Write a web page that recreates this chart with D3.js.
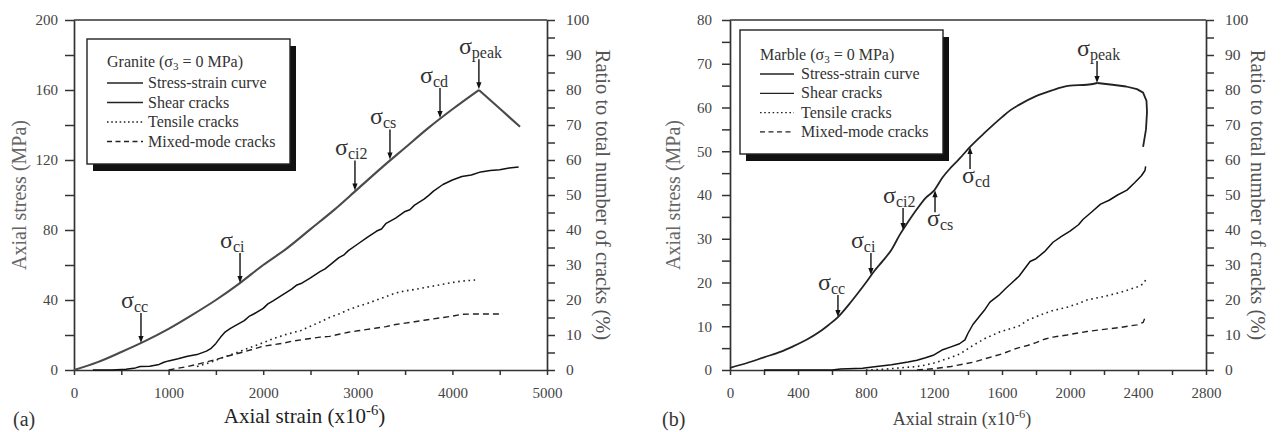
<!DOCTYPE html>
<html>
<head>
<meta charset="utf-8">
<script src="https://cdn.jsdelivr.net/npm/d3@7"></script>
<style>
  html, body { margin: 0; padding: 0; background: #fff; }
  svg { display: block; }
  svg text { font-family: "Liberation Serif", "Times New Roman", Tinos, "DejaVu Serif", serif; }
</style>
</head>
<body>
<div id="chart"></div>
<script>
// ---- data ----
// (a) granite: [axial strain x1e-6, value]
const graniteStress = [[0,0],[250,4.5],[500,10.3],[750,16.5],[1000,23.5],[1250,31.5],[1500,40],[1750,49.5],
  [2000,60],[2250,69.5],[2500,80.5],[2750,91.5],[3000,103.5],[3250,115.5],[3500,127],[3750,138.5],
  [4000,149],[4280,160],[4500,149.4],[4715,139]];
const graniteShear = [[200,0],[400,0],[550,0.2],[650,0.6],[700,1.0],[800,1.1],[900,1.6],[950,2.2],[1000,2.6],
  [1100,3.2],[1200,3.9],[1300,4.4],[1400,5.4],[1450,6.2],[1500,7.6],[1550,9.4],[1600,10.9],[1650,11.8],
  [1700,12.6],[1800,14.1],[1850,15.3],[1900,16.0],[2000,17.6],[2050,18.9],[2100,19.7],[2200,21.4],
  [2300,23.1],[2350,24.2],[2400,24.7],[2500,26.3],[2600,28.1],[2650,28.8],[2700,29.9],[2800,32.1],
  [2850,32.8],[2900,34.1],[3000,36.0],[3100,37.9],[3200,39.7],[3250,40.3],[3300,41.9],[3400,43.4],
  [3500,45.3],[3550,45.8],[3600,47.1],[3700,48.8],[3750,49.9],[3800,51.1],[3900,53.0],[4000,54.3],
  [4100,55.3],[4200,55.7],[4300,56.6],[4400,57.0],[4500,57.2],[4600,57.7],[4700,58.0]];
const graniteTensile = [[1300,1.0],[1400,1.8],[1500,2.8],[1600,3.8],[1700,4.8],[1800,5.8],[1900,6.8],[2000,7.8],
  [2100,8.9],[2200,9.8],[2300,10.6],[2400,11.3],[2500,12.5],[2600,13.7],[2700,15.0],[2800,16.0],
  [2900,17.2],[3000,18.2],[3100,19.0],[3200,20.0],[3300,21.0],[3400,22.0],[3500,22.6],[3600,23.0],
  [3700,23.5],[3800,24.0],[3900,24.5],[4000,25.0],[4100,25.4],[4240,25.7]];
const graniteMixed = [[1000,0],[1100,0.5],[1200,1.0],[1300,1.6],[1400,2.3],[1500,3.0],[1600,3.8],[1700,4.5],
  [1800,5.2],[1900,6.0],[2000,6.8],[2100,7.2],[2200,7.6],[2300,8.2],[2400,8.6],[2500,9.0],[2600,9.4],
  [2700,9.6],[2800,10.2],[2900,10.8],[3000,11.2],[3100,11.6],[3200,12.0],[3300,12.4],[3400,13.0],
  [3500,13.4],[3600,13.8],[3700,14.2],[3800,14.6],[3900,15.0],[4000,15.4],[4100,15.9],[4200,16.0],[4535,16.0]];
const graniteMarks = [
  { sub: "cc", strain: 708, stress: 15.4, up: false },
  { sub: "ci", strain: 1755, stress: 49.7, up: false },
  { sub: "ci2", strain: 2970, stress: 102.6, up: false },
  { sub: "cs", strain: 3340, stress: 120.3, up: false },
  { sub: "cd", strain: 3869, stress: 144, up: false },
  { sub: "peak", strain: 4280, stress: 160.5, up: false }
];

// (b) marble
const marbleStress = [[0,0.5],[100,1.6],[200,2.9],[300,4.2],[365,5.3],[450,6.9],[518,8.5],[580,10.3],[635,12.1],
  [700,15.0],[753,17.6],[800,20.0],[850,22.7],[900,25.0],[950,27.5],[1000,31.0],[1050,34.0],[1100,36.8],
  [1150,39.3],[1200,41.0],[1250,44.0],[1300,46.3],[1350,48.3],[1412,51.0],[1500,54.3],[1600,57.8],
  [1650,59.4],[1700,60.6],[1800,62.6],[1900,64.0],[1950,64.6],[2000,65.0],[2100,65.2],[2160,65.6],
  [2250,65.2],[2330,64.8],[2394,64.2],[2430,63.4],[2450,61.5],[2453,59.0],[2447,55.0],[2430,51.0]];
const marbleShear = [[200,0],[400,0],[600,0],[650,0.3],[780,0.5],[850,0.9],[950,1.5],[1047,2.3],[1100,2.8],
  [1150,3.5],[1200,4.3],[1247,5.7],[1300,6.6],[1350,7.5],[1382,8.6],[1400,10.5],[1429,13.0],[1470,15.5],
  [1500,17.3],[1529,19.4],[1580,21.3],[1620,23.2],[1660,25.0],[1700,26.8],[1765,31.0],[1800,31.8],
  [1850,33.8],[1900,36.5],[1950,38.2],[2000,39.7],[2050,41.5],[2076,43.0],[2129,45.2],[2180,47.4],
  [2230,48.5],[2280,50.0],[2335,51.4],[2380,53.5],[2420,55.5],[2441,57.0],[2445,58.2]];
const marbleTensile = [[800,0],[900,0.2],[1000,0.6],[1100,1.0],[1147,1.4],[1200,2.0],[1250,2.8],[1300,3.6],
  [1353,4.6],[1429,7.0],[1500,9.0],[1588,10.9],[1650,11.8],[1700,12.6],[1750,14.2],[1800,15.2],
  [1850,16.2],[1900,17.0],[1982,17.9],[2050,19.0],[2100,20.0],[2200,21.0],[2300,22.2],[2394,23.7],
  [2430,24.6],[2453,26.3]];
const marbleMixed = [[1100,0],[1200,0.4],[1300,1.0],[1429,2.2],[1500,3.2],[1600,4.6],[1686,6.2],[1750,7.0],
  [1800,7.8],[1850,8.8],[1900,9.4],[1982,10.0],[2050,10.6],[2100,11.0],[2200,11.6],[2300,12.2],
  [2394,12.9],[2430,13.6],[2441,14.9]];
const marbleMarks = [
  { sub: "cc", strain: 635, stress: 12.1, up: false },
  { sub: "ci", strain: 829, stress: 21.7, up: false },
  { sub: "ci2", strain: 1018, stress: 32, up: false },
  { sub: "cs", strain: 1206, stress: 41.1, up: true },
  { sub: "cd", strain: 1412, stress: 51, up: true },
  { sub: "peak", strain: 2159, stress: 65.6, up: false }
];

const legendLabels = ["Stress-strain curve", "Shear cracks", "Tensile cracks", "Mixed-mode cracks"];
const ratioTicks = d3.range(0, 101, 10);
const ratioMinor = d3.range(5, 100, 10);

// ---- layout ----
const W = 1282, H = 432;
const FONT = "'Liberation Serif', 'Times New Roman', Tinos, 'DejaVu Serif', serif";
const svg = d3.select("#chart").append("svg").attr("width", W).attr("height", H)
  .attr("font-family", FONT);

const panels = [
  {
    letter: "(a)", letterX: 13, rock: "Granite",
    left: 74, right: 547, top: 20, bottom: 370,
    xMax: 5000, xTicks: d3.range(0, 5001, 1000), xMinor: d3.range(500, 5000, 1000),
    yMax: 200, yTicks: d3.range(0, 201, 40), yMinor: d3.range(20, 200, 40),
    yPad: 7, yTick: 9,
    stress: graniteStress, shear: graniteShear, tensile: graniteTensile, mixed: graniteMixed, marks: graniteMarks,
    stressColor: "#4a4a4a", stressWidth: 2.1, arrowLen: 30,
    yTitleX: 19, yrTitleX: 603, xTitleSize: 21, xTitleColor: "#222", xTitleBase: 423,
    legend: { x: 87, y: 39, w: 203, h: 125, titleY: 67, row0: 88, dy: 19.5, lx0: 107, lx1: 143, tx: 148 }
  },
  {
    letter: "(b)", letterX: 662, rock: "Marble",
    left: 730, right: 1206, top: 20, bottom: 370,
    xMax: 2800, xTicks: d3.range(0, 2801, 400), xMinor: d3.range(200, 2800, 400),
    yMax: 80, yTicks: d3.range(0, 81, 10), yMinor: d3.range(5, 80, 10),
    yPad: 10, yTick: 8,
    stress: marbleStress, shear: marbleShear, tensile: marbleTensile, mixed: marbleMixed, marks: marbleMarks,
    stressColor: "#222", stressWidth: 1.8, arrowLen: 22,
    yTitleX: 673, yrTitleX: 1258, xTitleSize: 18, xTitleColor: "#444", xTitleBase: 425,
    legend: { x: 740, y: 30, w: 203, h: 124, titleY: 60, row0: 79, dy: 19.3, lx0: 760, lx1: 794, tx: 801 }
  }
];

const axisColor = "#333";
const tickColor = "#444";
const fmt = d3.format("d");

function styleAxis(g, size) {
  g.attr("font-family", FONT);
  g.selectAll("path.domain").attr("stroke", axisColor).attr("stroke-width", 1.7);
  g.selectAll(".tick line").attr("stroke", axisColor).attr("stroke-width", 1.5);
  g.selectAll(".tick text").attr("fill", tickColor).attr("font-size", size);
}

function drawPanel(p) {
  const g = svg.append("g");
  const x = d3.scaleLinear().domain([0, p.xMax]).range([p.left, p.right]);
  const y = d3.scaleLinear().domain([0, p.yMax]).range([p.bottom, p.top]);
  const yr = d3.scaleLinear().domain([0, 100]).range([p.bottom, p.top]);

  // top frame
  g.append("line").attr("x1", p.left).attr("x2", p.right).attr("y1", p.top).attr("y2", p.top)
    .attr("stroke", axisColor).attr("stroke-width", 1.7);

  // minor ticks
  g.append("g").attr("transform", `translate(${p.left},0)`)
    .call(d3.axisLeft(y).tickValues(p.yMinor).tickFormat("").tickSize(p.yTick).tickSizeOuter(0))
    .call(s => { s.select(".domain").remove(); styleAxis(s, 15); });
  g.append("g").attr("transform", `translate(0,${p.bottom})`)
    .call(d3.axisBottom(x).tickValues(p.xMinor).tickFormat("").tickSize(5).tickSizeOuter(0))
    .call(s => { s.select(".domain").remove(); styleAxis(s, 15); });
  g.append("g").attr("transform", `translate(${p.right},0)`)
    .call(d3.axisRight(yr).tickValues(ratioMinor).tickFormat("").tickSize(8).tickSizeOuter(0))
    .call(s => { s.select(".domain").remove(); styleAxis(s, 15); });

  // major axes
  g.append("g").attr("transform", `translate(${p.left},0)`)
    .call(d3.axisLeft(y).tickValues(p.yTicks).tickFormat(fmt).tickSize(p.yTick).tickPadding(p.yPad).tickSizeOuter(0))
    .call(s => styleAxis(s, 15));
  g.append("g").attr("transform", `translate(0,${p.bottom})`)
    .call(d3.axisBottom(x).tickValues(p.xTicks).tickFormat(fmt).tickSize(5).tickPadding(12).tickSizeOuter(0))
    .call(s => styleAxis(s, 15));
  g.append("g").attr("transform", `translate(${p.right},0)`)
    .call(d3.axisRight(yr).tickValues(ratioTicks).tickFormat(fmt).tickSize(8).tickPadding(11).tickSizeOuter(0))
    .call(s => styleAxis(s, 15.5));

  // axis titles
  g.append("text").attr("transform", `translate(${p.yTitleX},${(p.top + p.bottom) / 2}) rotate(-90)`)
    .attr("text-anchor", "middle").attr("dy", "0.35em").attr("font-size", 20).attr("fill", "#666")
    .text("Axial stress (MPa)");
  g.append("text").attr("transform", `translate(${p.yrTitleX},${(p.top + p.bottom) / 2}) rotate(90)`)
    .attr("text-anchor", "middle").attr("dy", "0.35em").attr("font-size", 20.5).attr("fill", "#555")
    .text("Ratio to total number of cracks (%)");
  const xt = g.append("text").attr("x", (p.left + p.right) / 2 - 6).attr("y", p.xTitleBase)
    .attr("text-anchor", "middle").attr("font-size", p.xTitleSize).attr("fill", p.xTitleColor)
    .text("Axial strain (x10");
  xt.append("tspan").attr("dy", -p.xTitleSize * 0.4).attr("font-size", p.xTitleSize * 0.7).text("-6");
  xt.append("tspan").attr("dy", p.xTitleSize * 0.4).text(")");
  g.append("text").attr("x", p.letterX).attr("y", 426).attr("font-size", 20).attr("fill", "#333").text(p.letter);

  // curves
  const line = (sx, sy) => d3.line().x(d => sx(d[0])).y(d => sy(d[1]));
  g.append("path").datum(p.mixed).attr("d", line(x, yr)).attr("fill", "none")
    .attr("stroke", "#222").attr("stroke-width", 1.4).attr("stroke-dasharray", "6,4");
  g.append("path").datum(p.tensile).attr("d", line(x, yr)).attr("fill", "none")
    .attr("stroke", "#222").attr("stroke-width", 1.6).attr("stroke-dasharray", "1.6,3.6");
  g.append("path").datum(p.shear).attr("d", line(x, yr)).attr("fill", "none")
    .attr("stroke", "#111").attr("stroke-width", 1.5).attr("stroke-linejoin", "round");

  // stress-strain: smooth up to the peak, straight after it
  const iPeak = d3.maxIndex(p.stress, d => d[1]);
  const rising = p.stress.slice(0, iPeak + 1), falling = p.stress.slice(iPeak);
  g.append("path").datum(rising).attr("d", line(x, y).curve(d3.curveMonotoneX)).attr("fill", "none")
    .attr("stroke", p.stressColor).attr("stroke-width", p.stressWidth).attr("stroke-linejoin", "round");
  g.append("path").datum(falling).attr("d", line(x, y)).attr("fill", "none")
    .attr("stroke", p.stressColor).attr("stroke-width", p.stressWidth).attr("stroke-linejoin", "round");

  // sigma annotations
  p.marks.forEach(m => {
    const tx = x(m.strain), ty = y(m.stress);
    const dir = m.up ? 1 : -1;
    const end = ty + dir * p.arrowLen;
    g.append("line").attr("x1", tx).attr("x2", tx).attr("y1", ty + dir * 5).attr("y2", end)
      .attr("stroke", "#111").attr("stroke-width", 1.4);
    g.append("path")
      .attr("d", `M${tx},${ty}L${tx - 2.6},${ty + dir * 7}L${tx + 2.6},${ty + dir * 7}Z`)
      .attr("fill", "#111");
    const base = m.up ? end + 14 : end - 5;
    const t = g.append("text").attr("x", tx - (m.up ? 8 : 20)).attr("y", base)
      .attr("fill", "#333").attr("font-size", 24);
    t.append("tspan").text("σ");
    t.append("tspan").attr("font-size", 16).attr("dy", 4).text(m.sub);
  });

  // legend
  const L = p.legend;
  g.append("rect").attr("x", L.x + 6).attr("y", L.y + 7).attr("width", L.w).attr("height", L.h).attr("fill", "#111");
  g.append("rect").attr("x", L.x).attr("y", L.y).attr("width", L.w).attr("height", L.h)
    .attr("fill", "#fff").attr("stroke", "#222").attr("stroke-width", 1.4);
  const title = g.append("text").attr("x", L.lx0).attr("y", L.titleY).attr("font-size", 16).attr("fill", "#333")
    .text(`${p.rock} (σ`);
  title.append("tspan").attr("font-size", 11).attr("dy", 3).text("3");
  title.append("tspan").attr("dy", -3).text(" = 0 MPa)");
  const dashes = [null, null, "1.6,2.6", "5,3.5"];
  legendLabels.forEach((lab, i) => {
    const by = L.row0 + i * L.dy;
    g.append("line").attr("x1", L.lx0).attr("x2", L.lx1).attr("y1", by - 5).attr("y2", by - 5)
      .attr("stroke", "#222").attr("stroke-width", 1.3)
      .attr("stroke-dasharray", dashes[i]);
    g.append("text").attr("x", L.tx).attr("y", by).attr("font-size", 16).attr("fill", "#333").text(lab);
  });
}

panels.forEach(drawPanel);
</script>
</body>
</html>
